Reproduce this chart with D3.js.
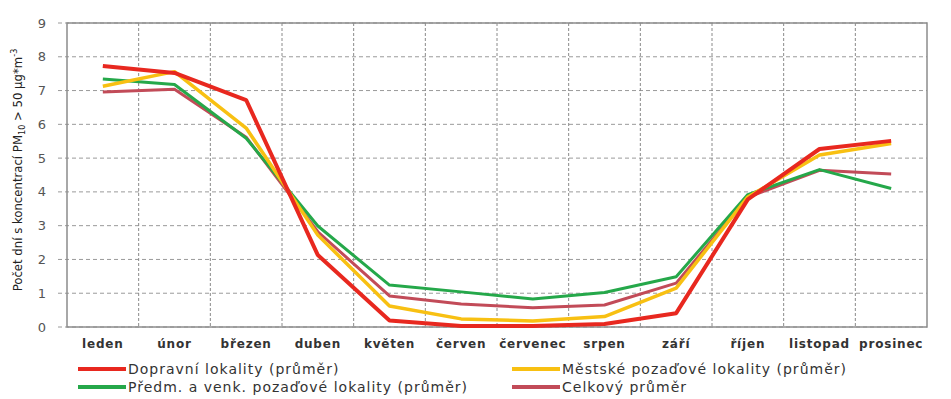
<!DOCTYPE html>
<html lang="cs">
<head>
<meta charset="UTF-8">
<title>PM10</title>
<script src="https://d3js.org/d3.v7.min.js"></script>
<style>
  body { margin: 0; background: #fff; }
  svg { display: block; }
</style>
</head>
<body>
<div id="chart"></div>
<script>
// months and series (days with PM10 > 50 ug/m3)
var months = ["leden", "únor", "březen", "duben", "květen", "červen", "červenec", "srpen", "září", "říjen", "listopad", "prosinec"];
var dopravni = [7.73, 7.52, 6.72, 2.13, 0.19, 0.03, 0.03, 0.09, 0.41, 3.78, 5.27, 5.51];
var mestske  = [7.13, 7.56, 5.89, 2.72, 0.62, 0.24, 0.18, 0.31, 1.15, 3.85, 5.09, 5.43];
var predm    = [7.34, 7.18, 5.59, 2.99, 1.24, 1.04, 0.83, 1.02, 1.49, 3.92, 4.66, 4.10];
var celkovy  = [6.96, 7.04, 5.62, 2.82, 0.92, 0.68, 0.57, 0.65, 1.30, 3.84, 4.64, 4.53];
var yTicks = [0, 1, 2, 3, 4, 5, 6, 7, 8, 9];

var series = [
  {name: "Dopravní lokality (průměr)", values: dopravni, color: "#e8281f", w: 4},
  {name: "Městské pozaďové lokality (průměr)", values: mestske, color: "#f8c012", w: 3.5},
  {name: "Předm. a venk. pozaďové lokality (průměr)", values: predm, color: "#25a84a", w: 3},
  {name: "Celkový průměr", values: celkovy, color: "#c24b58", w: 3}
];

var W = 951, H = 399;
var pLeft = 67, pRight = 927, pTop = 23, pBottom = 327;

var svg = d3.select("#chart").append("svg")
    .attr("width", W).attr("height", H);

svg.append("rect").attr("width", W).attr("height", H).attr("fill", "#fff");

var x = d3.scaleBand().domain(months).range([pLeft, pRight]);
var y = d3.scaleLinear().domain([0, 9]).range([pBottom, pTop]);

// horizontal grid
svg.append("g").selectAll("line").data(yTicks).enter().append("line")
    .attr("x1", pLeft - 9).attr("x2", pRight)
    .attr("y1", function(d) { return y(d); })
    .attr("y2", function(d) { return y(d); })
    .attr("stroke", "#9a9a9a")
    .attr("stroke-width", 1)
    .attr("stroke-dasharray", "4,3");

// vertical grid between categories
svg.append("g").selectAll("line").data(months.slice(1)).enter().append("line")
    .attr("x1", function(d) { return x(d); })
    .attr("x2", function(d) { return x(d); })
    .attr("y1", pTop).attr("y2", pBottom)
    .attr("stroke", "#8a8a8a")
    .attr("stroke-width", 1)
    .attr("stroke-dasharray", "3,2");

// plot box
svg.append("rect")
    .attr("x", pLeft).attr("y", pTop)
    .attr("width", pRight - pLeft).attr("height", pBottom - pTop)
    .attr("fill", "none").attr("stroke", "#8c8c8c").attr("stroke-width", 1.5);

// y tick labels
svg.append("g").selectAll("text").data(yTicks).enter().append("text")
    .attr("x", 42).attr("y", function(d) { return y(d); })
    .attr("dy", "0.35em")
    .attr("text-anchor", "middle")
    .attr("font-family", "DejaVu Sans, sans-serif")
    .attr("font-size", 13)
    .attr("fill", "#555")
    .text(function(d) { return d; });

// month labels
svg.append("g").selectAll("text").data(months).enter().append("text")
    .attr("x", function(d) { return x(d) + x.bandwidth() / 2; })
    .attr("y", 348)
    .attr("text-anchor", "middle")
    .attr("font-family", "DejaVu Sans, sans-serif")
    .attr("font-weight", "bold")
    .attr("font-size", 12)
    .attr("letter-spacing", 0.8)
    .attr("fill", "#333")
    .text(function(d) { return d; });

// y axis title
var yt = svg.append("text")
    .attr("transform", "translate(22," + ((pTop + pBottom) / 2 - 5) + ") rotate(-90)")
    .attr("text-anchor", "middle")
    .attr("font-family", "DejaVu Sans Condensed, sans-serif")
    .attr("font-size", 13)
    .attr("fill", "#222");
yt.append("tspan").text("Počet dní s koncentrací PM");
yt.append("tspan").attr("font-size", 9).attr("dy", 3).text("10");
yt.append("tspan").attr("dy", -3).text(" > 50 µg*m");
yt.append("tspan").attr("font-size", 9).attr("dy", -5).text("-3");

// lines
var line = d3.line()
    .x(function(d, i) { return x(months[i]) + x.bandwidth() / 2; })
    .y(function(d) { return y(d); });

svg.append("g").selectAll("path").data(series.slice().reverse()).enter().append("path")
    .attr("d", function(d) { return line(d.values); })
    .attr("fill", "none")
    .attr("stroke", function(d) { return d.color; })
    .attr("stroke-width", function(d) { return d.w; })
    .attr("stroke-linejoin", "round");

// legend
var legPos = [[78, 369], [512, 369], [78, 387], [512, 387]];
var leg = svg.append("g").selectAll("g").data(series).enter().append("g")
    .attr("transform", function(d, i) { return "translate(" + legPos[i][0] + "," + legPos[i][1] + ")"; });
leg.append("line")
    .attr("x1", 0).attr("x2", 48).attr("y1", 0).attr("y2", 0)
    .attr("stroke", function(d) { return d.color; })
    .attr("stroke-width", 4);
leg.append("text")
    .attr("x", 50).attr("dy", "0.35em")
    .attr("font-family", "DejaVu Sans, sans-serif")
    .attr("font-size", 14)
    .attr("letter-spacing", 1)
    .attr("fill", "#333")
    .text(function(d) { return d.name; });
</script>
</body>
</html>
